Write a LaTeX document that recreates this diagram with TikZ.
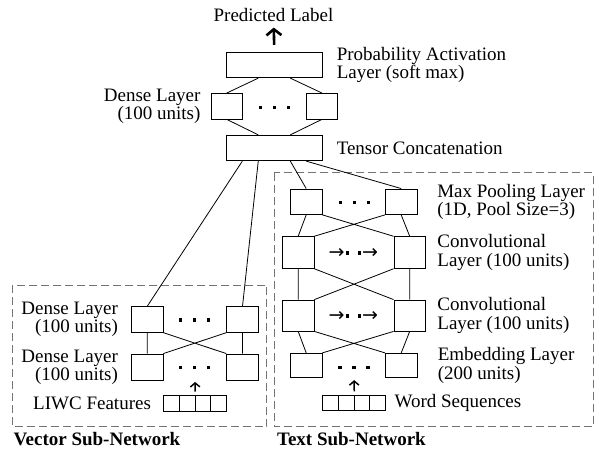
\documentclass[tikz,border=0pt]{standalone}
\usepackage{fontspec}
\setmainfont{Liberation Serif}
\newfontfamily\symfont{DejaVu Sans}
\usetikzlibrary{arrows.meta,positioning,calc}

\newcommand{\dotrow}{\rule{3.5pt}{3.5pt}\hspace{10.5pt}\rule{3.5pt}{3.5pt}\hspace{10.5pt}\rule{3.5pt}{3.5pt}}
\newcommand{\convrow}{{\symfont →}\hspace{1pt}\rule[4pt]{3.5pt}{3.5pt}\hspace{8.5pt}\rule[4pt]{3.5pt}{3.5pt}\hspace{1pt}{\symfont →}}

\begin{document}
\begin{tikzpicture}[x=1pt,y=-1pt,line width=0.8pt,
    font=\fontsize{19}{16}\selectfont,
    neuron/.style={draw,inner sep=0,minimum width=31.5pt,minimum height=#1},
    neuron/.default=25.5pt,
    wide/.style={draw,inner sep=0,minimum width=95.3pt,minimum height=25.5pt},
    cell/.style={draw,inner sep=0,minimum width=15.8pt,minimum height=15.6pt},
    lbl/.style={inner sep=0,align=left},
    rlbl/.style={inner sep=0,align=right},
    dots/.style={inner sep=0},
    group/.style={draw=black!55,dash pattern=on 8pt off 4pt,line width=0.7pt},
    arr/.style={-{Straight Barb[length=4pt,width=9.5pt]},line width=1.5pt},
    bigarr/.style={-{Straight Barb[length=6pt,width=15pt]},line width=2.6pt}]
\useasboundingbox (0,0) rectangle (600,450);

\draw[group] (12.3,285) rectangle (266.7,426.7);
\draw[group] (274.3,172.7) rectangle (593.3,426.7);

\node[inner sep=0] (pred) at (273.5,14.5) {Predicted Label};
\node[wide] (prob) at (274.3,65) {};
\node[neuron] (dl) at (226.7,106.2) {};
\node[neuron] (dr) at (322,106.2) {};
\node[dots] (ddots) at (274.7,107.3) {\dotrow};
\node[wide] (tensor) at (274.3,148) {};

\node[neuron] (mpl) at (306.2,201.7) {};
\node[neuron] (mpr) at (401.2,201.7) {};
\node[dots] (mpdots) at (354.3,202.3) {\dotrow};
\node[neuron=31.7pt] (c1l) at (298.2,252.5) {};
\node[neuron=31.7pt] (c1r) at (409.7,252.5) {};
\node[dots] (c1dots) at (353.3,253.5) {\convrow};
\node[neuron=31pt] (c2l) at (298.2,315.5) {};
\node[neuron=31pt] (c2r) at (409.7,315.5) {};
\node[dots] (c2dots) at (353.3,316.5) {\convrow};
\node[neuron=24.4pt] (el) at (306.2,365.5) {};
\node[neuron=24.4pt] (er) at (401.2,365.5) {};
\node[dots] (edots) at (354,367.3) {\dotrow};
\foreach \i in {0,...,3}
  \node[cell] (ws\i) at (330.2+15.8*\i,402.9) {};

\node[neuron] (vd1l) at (147.2,319.5) {};
\node[neuron] (vd1r) at (242.5,319.5) {};
\node[dots] (vdots1) at (194.7,320) {\dotrow};
\node[neuron=26pt] (vd2l) at (147.2,367) {};
\node[neuron=26pt] (vd2r) at (242.5,367) {};
\node[dots] (vdots2) at (194.7,367.3) {\dotrow};
\foreach \i in {0,...,3}
  \node[cell] (liwc\i) at (171.2+15.8*\i,403.2) {};

\node[lbl,right=14pt of prob] {Probability Activation\\Layer (soft max)};
\node[rlbl,left=9.7pt of dl] {Dense Layer\\(100 units)};
\node[lbl,right=14pt of tensor] {Tensor Concatenation};
\node[lbl,right=19.5pt of mpr] {Max Pooling Layer\\(1D, Pool Size=3)};
\node[lbl,right=11.2pt of c1r,font=\fontsize{19}{18.5}\selectfont] {Convolutional\\Layer (100 units)};
\node[lbl,right=11.2pt of c2r,font=\fontsize{19}{18.5}\selectfont] {Convolutional\\Layer (100 units)};
\node[lbl,right=20pt of er] {Embedding Layer\\(200 units)};
\node[lbl,right=8.3pt of ws3] {Word Sequences};
\node[rlbl,left=12.7pt of vd1l] {Dense Layer\\(100 units)};
\node[rlbl,left=12.7pt of vd2l] {Dense Layer\\(100 units)};
\node[rlbl,left=11.6pt of liwc0] {LIWC Features};
\node[inner sep=0,anchor=west] (vecname) at (13.3,439.5) {\bfseries Vector Sub-Network};
\node[inner sep=0,anchor=west] (txtname) at (276.7,439.5) {\bfseries Text Sub-Network};

\draw[bigarr,shorten <=7pt,shorten >=6pt] (prob.north) -- (pred);
\draw ($(prob.south west)!0.333!(prob.south east)$) -- (dl.north);
\draw ($(prob.south west)!0.667!(prob.south east)$) -- (dr.north);
\draw (dl.south) -- ($(tensor.north west)!0.333!(tensor.north east)$);
\draw (dr.south) -- ($(tensor.north west)!0.667!(tensor.north east)$);
\foreach \f/\t in {0.167/vd1l,0.333/vd1r,0.667/mpl,0.833/mpr}
  \draw ($(tensor.south west)!\f!(tensor.south east)$) -- (\t.north);
\foreach \a/\b/\c/\d in {mpl/mpr/c1l/c1r,c1l/c1r/c2l/c2r,c2l/c2r/el/er,vd1l/vd1r/vd2l/vd2r}
  \draw (\a.south) -- (\c.north) (\b.south) -- (\d.north)
        (\a.south east) -- (\d.north west) (\b.south west) -- (\c.north east);
\draw[arr,shorten <=3.3pt,shorten >=10.7pt] (ws1.north east) -- (edots);
\draw[arr,shorten <=3.5pt,shorten >=12.5pt] (liwc1.north east) -- (vdots2);
\end{tikzpicture}
\end{document}
